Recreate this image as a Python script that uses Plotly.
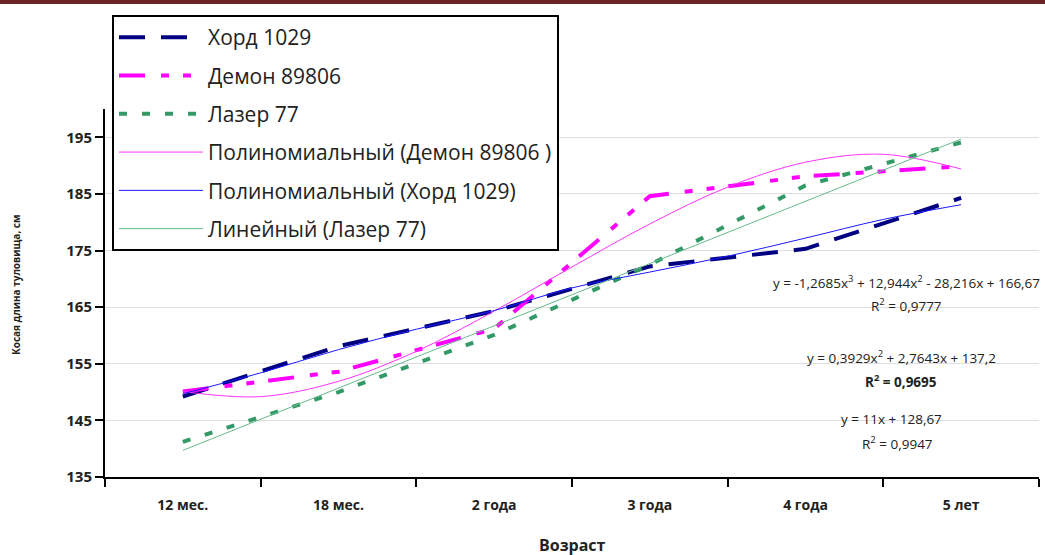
import plotly.graph_objects as go

categories = ["12 мес.", "18 мес.", "2 года", "3 года", "4 года", "5 лет"]
cat_pos = [1, 2, 3, 4, 5, 6]
khord = [149.2, 158.1, 164.3, 172.2, 175.3, 184.3]
demon = [150.1, 153.6, 161.2, 184.6, 188.1, 189.9]
lazer = [141.2, 150.0, 160.1, 172.5, 186.5, 194.1]

trend_x = [1, 1.5, 2, 2.5, 3, 3.5, 4, 4.5, 5, 5.5, 6]
trend_demon = [150.1, 149.2, 151.9, 157.2, 164.3, 172.1, 179.7, 186.2, 190.6, 192.0, 189.4]
trend_khord = [149.7, 153.4, 157.5, 161.1, 164.4, 168.4, 171.2, 174.0, 177.2, 180.5, 183.1]
trend_lazer = [139.7, 145.2, 150.7, 156.2, 161.7, 167.2, 172.7, 178.2, 183.7, 189.2, 194.7]

y_ticks = [135, 145, 155, 165, 175, 185, 195]
boundaries = [0.5, 1.5, 2.5, 3.5, 4.5, 5.5, 6.5]

names = ["Хорд 1029", "Демон 89806", "Лазер 77",
         "Полиномиальный (Демон 89806 )", "Полиномиальный (Хорд 1029)", "Линейный (Лазер 77)"]

equations = [
    ("y = -1,2685x<sup>3</sup> + 12,944x<sup>2</sup> - 28,216x + 166,67", 906, 282),
    ("R<sup>2</sup> = 0,9777", 906, 305),
    ("y = 0,3929x<sup>2</sup> + 2,7643x + 137,2", 901, 357),
    ("<b>R<sup>2</sup> = 0,9695</b>", 901, 381),
    ("y = 11x + 128,67", 891, 419),
    ("R<sup>2</sup> = 0,9947", 897, 443),
]

FONT = "Open Sans"
W, H = 1045, 555
L, R, T, B = 105, 6, 109, 78
pw, ph = W - L - R, H - T - B

def px(x):
    return (x - L) / pw

def py(y):
    return (H - B - y) / ph

fig = go.Figure()
fig.add_trace(go.Scatter(x=cat_pos, y=khord, mode="lines", name=names[0], legendgroup="a",
                         line=dict(color="#000080", width=4, dash="26px,16px")))
fig.add_trace(go.Scatter(x=cat_pos, y=demon, mode="lines", name=names[1], legendgroup="b",
                         line=dict(color="#FF00FF", width=4, dash="26px,16px,8px,14px,8px,14px")))
fig.add_trace(go.Scatter(x=cat_pos, y=lazer, mode="lines", name=names[2], legendgroup="c",
                         line=dict(color="#339966", width=4, dash="8px,15px")))
fig.add_trace(go.Scatter(x=trend_x, y=trend_demon, mode="lines", name=names[3], legendgroup="d",
                         line=dict(color="#FF33FF", width=1, shape="spline")))
fig.add_trace(go.Scatter(x=trend_x, y=trend_khord, mode="lines", name=names[4], legendgroup="e",
                         line=dict(color="#1a1aff", width=1, shape="spline")))
fig.add_trace(go.Scatter(x=trend_x, y=trend_lazer, mode="lines", name=names[5], legendgroup="f",
                         line=dict(color="#66bb8c", width=1)))

annotations = []
for txt, x, y in equations:
    annotations.append(dict(text=txt, x=px(x), y=py(y), xref="paper", yref="paper",
                            xanchor="center", yanchor="middle", showarrow=False,
                            font=dict(family=FONT, size=13.5, color="#222")))
annotations.append(dict(text="<b>Возраст</b>", x=px(572), y=py(545), xref="paper", yref="paper",
                        xanchor="center", yanchor="middle", showarrow=False,
                        font=dict(family=FONT, size=16, color="#222")))
annotations.append(dict(text="<b>Косая длина туловища, см</b>", x=px(16), y=py(285), xref="paper",
                        yref="paper", xanchor="center", yanchor="middle", showarrow=False,
                        textangle=-90, font=dict(family=FONT, size=10, color="#222")))

fig.update_layout(
    width=W, height=H,
    margin=dict(l=L, r=R, t=T, b=B),
    paper_bgcolor="white", plot_bgcolor="white",
    font=dict(family=FONT, color="#222"),
    showlegend=True,
    legend=dict(x=px(112), y=py(15), xanchor="left", yanchor="top",
                bgcolor="white", bordercolor="black", borderwidth=2,
                font=dict(family=FONT, size=21, color="#222"),
                itemwidth=84, tracegroupgap=8, traceorder="grouped"),
    annotations=annotations,
    shapes=[dict(type="rect", xref="paper", yref="paper", x0=px(0), x1=px(W),
                 y0=py(4), y1=py(0), fillcolor="#6B2323", line=dict(width=0), layer="above")],
)

fig.update_xaxes(range=[0.5, 6.5], tickmode="array", tickvals=cat_pos, ticktext=categories,
                 ticks="", showline=True, linecolor="black", linewidth=2, showgrid=False,
                 zeroline=False, ticklabelstandoff=14,
                 tickfont=dict(family=FONT, size=14, color="#222", weight="bold"),
                 minor=dict(tickmode="array", tickvals=boundaries, ticks="outside", ticklen=8,
                            tickwidth=2, tickcolor="black", showgrid=False))
fig.update_yaxes(range=[135, 200], tickmode="array", tickvals=y_ticks, ticks="outside",
                 ticklen=8, tickwidth=2, tickcolor="black", showline=True, linecolor="black",
                 linewidth=2, showgrid=True, gridcolor="#dedede", gridwidth=1, zeroline=False,
                 tickfont=dict(family=FONT, size=15, color="#222", weight="bold"))

fig.write_html("out.html")
